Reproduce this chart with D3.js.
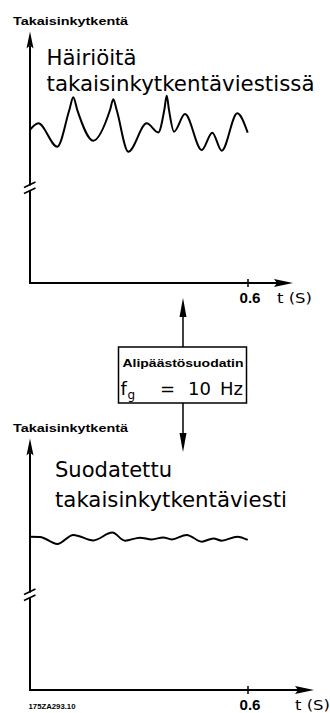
<!DOCTYPE html>
<html>
<head>
<meta charset="utf-8">
<script src="https://cdn.jsdelivr.net/npm/d3@7"></script>
<style>
  body { margin: 0; background: #fff; }
  svg { display: block; }
</style>
</head>
<body>
<svg id="chart" width="330" height="713"></svg>
<script>
// noisy feedback signal (time in s, arbitrary signal units 0..100)
const noisyT = [0, 0.0229, 0.0751, 0.1082, 0.1192, 0.1302, 0.1742, 0.2202, 0.2293, 0.2386, 0.2706, 0.3212, 0.3532, 0.3696, 0.3763, 0.3826, 0.3963, 0.4266, 0.4726, 0.5017, 0.5276, 0.5706, 0.5992];
const noisyV = [61.0, 63.6, 54.3, 68.9, 74.0, 68.9, 56.7, 68.9, 73.2, 68.9, 52.3, 63.6, 60.0, 68.9, 74.6, 68.9, 60.3, 67.3, 53.0, 59.9, 52.7, 67.6, 59.9];

// filtered feedback signal
const filtT = [0, 0.0275, 0.0751, 0.1192, 0.1742, 0.2265, 0.2615, 0.3028, 0.3349, 0.3669, 0.3900, 0.4313, 0.4726, 0.5045, 0.5276, 0.5706, 0.5992];
const filtV = [61.1, 61.0, 58.2, 61.8, 59.6, 62.7, 59.5, 60.7, 60.0, 60.8, 60.0, 61.8, 59.1, 60.4, 59.5, 61.1, 59.8];

const xTicks = [0.6];
const yLabel = "Takaisinkytkentä";
const xLabel = "t (S)";
const topText = ["Häiriöitä", "takaisinkytkentäviestissä"];
const bottomText = ["Suodatettu", "takaisinkytkentäviesti"];
const filterTitle = "Alipäästösuodatin";
const code = "175ZA293.10";

const svg = d3.select("#chart");
const bigFont = "'DejaVu Sans', sans-serif";
const boldFont = "'Liberation Sans', Arial, sans-serif";

const x = d3.scaleLinear().domain([0, 0.6]).range([30, 248]);

function drawPanel(opts) {
  const y = d3.scaleLinear().domain([0, 100]).range([opts.y0, opts.y0 - 251]);
  const g = svg.append("g");

  // y label
  g.append("text")
    .attr("x", 13).attr("y", opts.y0 - 258)
    .attr("font-family", boldFont).attr("font-weight", "bold")
    .attr("font-size", 11.5)
    .attr("textLength", 115).attr("lengthAdjust", "spacingAndGlyphs")
    .text(yLabel);

  // y axis with break
  const breakY = opts.y0 - 95;
  g.append("line").attr("x1", 30).attr("x2", 30)
    .attr("y1", opts.y0 - 237).attr("y2", breakY - 2.5)
    .attr("stroke", "#000").attr("stroke-width", 2);
  g.append("line").attr("x1", 30).attr("x2", 30)
    .attr("y1", breakY + 3).attr("y2", opts.y0 + 1)
    .attr("stroke", "#000").attr("stroke-width", 2);
  [-3, 3].forEach(dy => {
    g.append("line")
      .attr("x1", 24).attr("y1", breakY + dy + 2.5)
      .attr("x2", 35.5).attr("y2", breakY + dy - 3)
      .attr("stroke", "#000").attr("stroke-width", 1.6);
  });
  // y arrow head
  const tipY = opts.y0 - 251.5;
  g.append("path")
    .attr("d", `M30,${tipY} L33.5,${tipY + 17} L30,${tipY + 14} L26.5,${tipY + 17} Z`)
    .attr("fill", "#000");

  // x axis
  g.append("line").attr("x1", 29).attr("x2", opts.xEnd - 10)
    .attr("y1", opts.y0).attr("y2", opts.y0)
    .attr("stroke", "#000").attr("stroke-width", 2);
  g.append("path")
    .attr("d", `M${opts.xEnd},${opts.y0} L${opts.xEnd - 19},${opts.y0 - 4} L${opts.xEnd - 16},${opts.y0} L${opts.xEnd - 19},${opts.y0 + 4} Z`)
    .attr("fill", "#000");

  xTicks.forEach(t => {
    g.append("line").attr("x1", x(t)).attr("x2", x(t))
      .attr("y1", opts.y0 - 4).attr("y2", opts.y0 + 4)
      .attr("stroke", "#000").attr("stroke-width", 1.5);
    g.append("text")
      .attr("x", x(t) + 2).attr("y", opts.y0 + opts.labelDy)
      .attr("text-anchor", "middle")
      .attr("font-family", boldFont).attr("font-weight", "bold")
      .attr("font-size", 14)
      .attr("textLength", 21).attr("lengthAdjust", "spacingAndGlyphs")
      .text(t.toFixed(1));
  });
  g.append("text")
    .attr("x", opts.xLabelX).attr("y", opts.y0 + opts.labelDy)
    .attr("font-family", bigFont)
    .attr("font-size", 14)
    .attr("textLength", 35).attr("lengthAdjust", "spacingAndGlyphs")
    .text(xLabel);

  // caption
  opts.text.forEach((s, i) => {
    g.append("text")
      .attr("x", opts.textX).attr("y", opts.textY[i])
      .attr("font-family", bigFont)
      .attr("font-size", 21.5)
      .attr("textLength", opts.textW[i]).attr("lengthAdjust", "spacingAndGlyphs")
      .text(s);
  });

  // signal
  const line = d3.line()
    .x(d => x(d[0]))
    .y(d => y(d[1]))
    .curve(d3.curveMonotoneX);
  g.append("path")
    .datum(d3.zip(opts.t, opts.v))
    .attr("d", line)
    .attr("fill", "none")
    .attr("stroke", "#000")
    .attr("stroke-width", 2)
    .attr("stroke-linejoin", "round");
}

drawPanel({
  y0: 283, t: noisyT, v: noisyV, xEnd: 293, labelDy: 20, xLabelX: 277,
  text: topText, textX: 46.5, textY: [65, 91], textW: [90, 268]
});
drawPanel({
  y0: 690, t: filtT, v: filtV, xEnd: 314, labelDy: 20, xLabelX: 295,
  text: bottomText, textX: 55, textY: [477, 507], textW: [117, 232]
});

// filter box with arrows
const bx = 118.5, by = 347, bw = 128, bh = 56, ax = 183;
svg.append("line").attr("x1", ax).attr("x2", ax).attr("y1", 312).attr("y2", by)
  .attr("stroke", "#000").attr("stroke-width", 1.5);
svg.append("path")
  .attr("d", `M${ax},298 L${ax + 3.5},317 L${ax - 3.5},317 Z`).attr("fill", "#000");
svg.append("line").attr("x1", ax).attr("x2", ax).attr("y1", by + bh).attr("y2", 438)
  .attr("stroke", "#000").attr("stroke-width", 1.5);
svg.append("path")
  .attr("d", `M${ax},452 L${ax + 3.5},433 L${ax - 3.5},433 Z`).attr("fill", "#000");

svg.append("rect").attr("x", bx).attr("y", by).attr("width", bw).attr("height", bh)
  .attr("fill", "#fff").attr("stroke", "#000").attr("stroke-width", 1.5);
svg.append("text")
  .attr("x", 122.5).attr("y", 367)
  .attr("font-family", boldFont).attr("font-weight", "bold").attr("font-size", 11.5)
  .attr("textLength", 121).attr("lengthAdjust", "spacingAndGlyphs")
  .text(filterTitle);
const fg = svg.append("text")
  .attr("y", 394.5)
  .attr("font-family", bigFont).attr("font-size", 18);
fg.append("tspan").attr("x", 120.5).text("f");
fg.append("tspan").attr("x", 127.5).attr("dy", 4).attr("font-size", 12).text("g");
fg.append("tspan").attr("x", 160).attr("dy", -4).text("=");
fg.append("tspan").attr("x", 188).text("10");
fg.append("tspan").attr("x", 220).text("Hz");

svg.append("text")
  .attr("x", 28.5).attr("y", 708.5)
  .attr("font-family", boldFont).attr("font-weight", "bold").attr("font-size", 7)
  .attr("textLength", 47).attr("lengthAdjust", "spacingAndGlyphs")
  .text(code);
</script>
</body>
</html>
